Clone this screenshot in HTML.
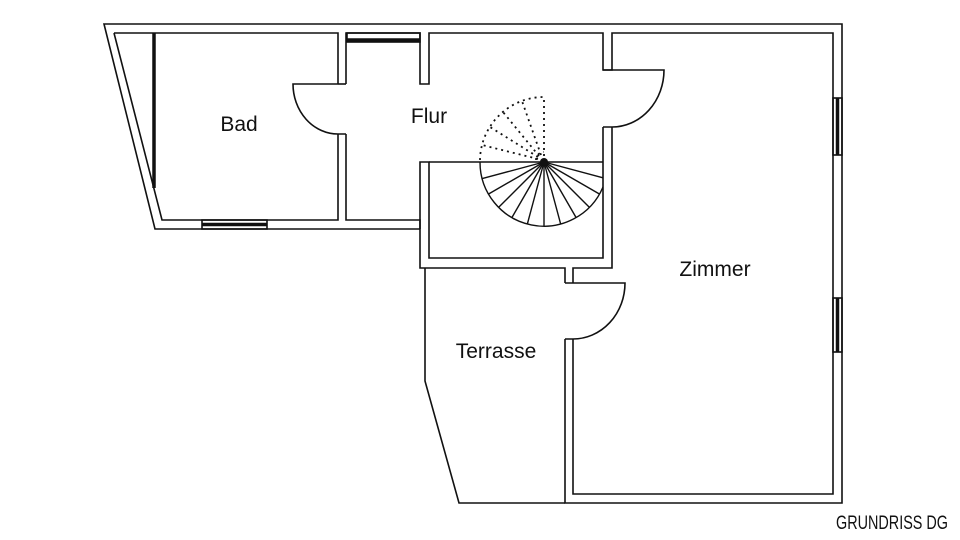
<!DOCTYPE html>
<html><head><meta charset="utf-8"><style>
html,body{margin:0;padding:0;background:#fff;}
svg{display:block;}
text{font-family:"Liberation Sans",sans-serif;fill:#111;}
</style></head><body>
<svg width="960" height="540" viewBox="0 0 960 540" xmlns="http://www.w3.org/2000/svg">
<rect width="960" height="540" fill="#fff"/>
<g fill="none" stroke="#111" stroke-width="1.6" stroke-linejoin="miter">
<path d="M420,229 L155,229 L104,24 L842,24 L842,503 L565,503 L565,339"/>
<path d="M565,283 L565,268 L420,268 L420,162 L429,162 L429,258 L603,258 L603,127"/>
<path d="M573,283 L573,268 L612,268 L612,127"/>
<path d="M114,33 L162,220 L338,220 L338,134"/>
<path d="M338,84 L338,33 L114,33"/>
<path d="M346,84 L346,33 L420,33 L420,84 L429,84 L429,33 L603,33 L603,70 L612,70 L612,33 L833,33 L833,494 L573,494 L573,339"/>
<path d="M346,134 L346,220 L420,220 L420,229"/>
<path d="M429,162 L603,162"/>
<path d="M338,84 L293,84 A45,50 0 0 0 338,134 L346,134"/>
<path d="M338,84 L346,84"/>
<path d="M603,70 L664,70 A52,57 0 0 1 612,127 L603,127"/>
<path d="M565,283 L625,283 A52,56 0 0 1 573,339 L565,339"/>
<path d="M425,268 L425,381 L459,503 L565,503"/>
<rect x="202" y="220" width="65" height="9"/>
<rect x="347" y="33" width="73" height="9"/>
<rect x="833" y="98" width="9" height="57"/>
<rect x="833" y="298" width="9" height="54"/>
</g>
<g stroke="#111" stroke-width="3.5">
<line x1="154" y1="33" x2="154" y2="188"/>
<line x1="202" y1="224.5" x2="267" y2="224.5"/>
<line x1="347" y1="40" x2="420" y2="40"/>
<line x1="837.5" y1="98" x2="837.5" y2="155"/>
<line x1="837.5" y1="298" x2="837.5" y2="352"/>
</g>
<g fill="none" stroke="#111" stroke-width="1.4">
<path d="M480,162 A64,64 0 0 0 603,187"/>
<line x1="544" y1="162" x2="603" y2="177.8"/>
<line x1="544" y1="162" x2="599.4" y2="194"/>
<line x1="544" y1="162" x2="589.3" y2="207.3"/>
<line x1="544" y1="162" x2="576" y2="217.4"/>
<line x1="544" y1="162" x2="560.6" y2="223.8"/>
<line x1="544" y1="162" x2="544" y2="226"/>
<line x1="544" y1="162" x2="527.4" y2="223.8"/>
<line x1="544" y1="162" x2="512" y2="217.4"/>
<line x1="544" y1="162" x2="498.7" y2="207.3"/>
<line x1="544" y1="162" x2="488.6" y2="194"/>
<line x1="544" y1="162" x2="482.2" y2="178.6"/>
</g>
<circle cx="544" cy="162" r="4" fill="#111"/>
<g fill="none" stroke="#111" stroke-width="1.8" stroke-dasharray="2,4">
<path d="M480,160 A64,64 0 0 1 544,97"/>
<line x1="544" y1="156" x2="544" y2="97"/>
<line x1="538" y1="159" x2="482" y2="145"/>
<line x1="538" y1="157" x2="490" y2="127"/>
<line x1="539" y1="156" x2="503" y2="112"/>
<line x1="541" y1="155" x2="522" y2="101"/>
<path d="M536,160 A8,8 0 0 1 544,152"/>
</g>
<text x="239" y="131" font-size="21" text-anchor="middle">Bad</text>
<text x="429" y="123" font-size="21" text-anchor="middle">Flur</text>
<text x="715" y="276" font-size="21" text-anchor="middle">Zimmer</text>
<text x="496" y="358" font-size="21" text-anchor="middle">Terrasse</text>
<text x="836" y="529" font-size="19" textLength="112" lengthAdjust="spacingAndGlyphs" style="font-family:'Liberation Sans Narrow','Liberation Sans',sans-serif">GRUNDRISS DG</text>
</svg>
</body></html>
